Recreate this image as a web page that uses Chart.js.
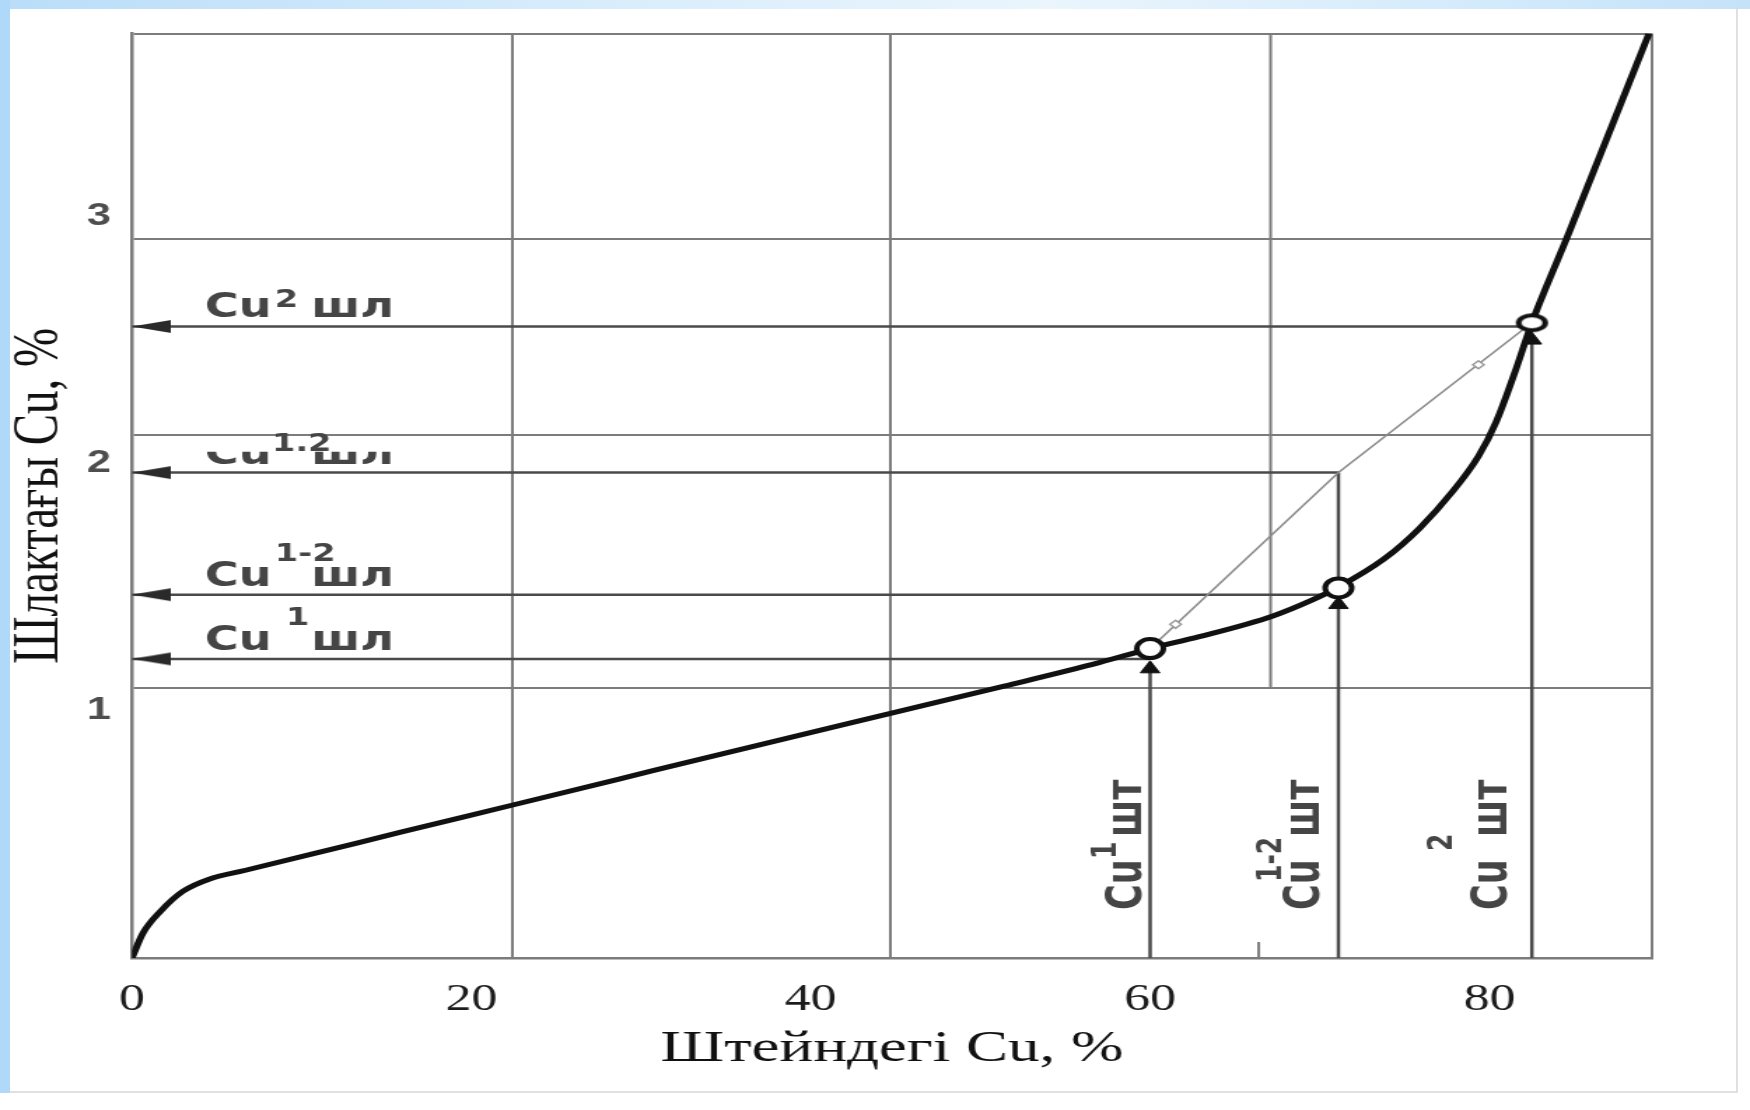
<!DOCTYPE html>
<html>
<head>
<meta charset="utf-8">
<title>Штейндегі Cu</title>
<script src="https://cdn.jsdelivr.net/npm/chart.js@4.4.1/dist/chart.umd.min.js"></script>
<style>
  html, body { margin: 0; padding: 0; background: #ffffff; width: 1750px; height: 1110px; overflow: hidden; }
  #topband { position: absolute; left: 0; top: 0; width: 1750px; height: 9px;
    background: linear-gradient(to right, #b9ddf9 0%, #d5ebfb 30%, #eaf5fd 60%, #d3eafb 85%, #c4e2f8 100%); }
  #leftband { position: absolute; left: 0; top: 0; width: 10px; height: 1093px; background: #b0d8f8; }
  #panel { position: absolute; left: 10px; top: 9px; width: 1726px; height: 1082px;
    border-right: 2px solid #e0e0e0; border-bottom: 2px solid #e0e0e0; }
  canvas { position: absolute; left: 0; top: 0; }
</style>
</head>
<body>
<div id="topband"></div>
<div id="leftband"></div>
<div id="panel"></div>
<!-- the scanned figure is stretched horizontally, so the canvas is displayed wider than it is drawn -->
<canvas id="c" width="1250" height="1110" style="width:1750px;height:1110px"></canvas>
<script>
// ---------------- data (chart units) ----------------
const curveX = [0, 0.64, 1.69, 3.0, 4.58, 6.69, 10.64, 15.9, 22.5, 29.05, 33.5, 44.7, 51.4, 57.0, 60.0, 62.9, 67.2, 69.6, 71.0, 73.8, 75.9, 77.8, 79.35, 80.4, 81.5, 82.5, 84.6, 87.0, 89.4];
const curveY = [0, 0.10, 0.19, 0.27, 0.32, 0.355, 0.421, 0.51, 0.62, 0.73, 0.805, 0.99, 1.10, 1.195, 1.252, 1.30, 1.383, 1.45, 1.497, 1.615, 1.74, 1.885, 2.03, 2.17, 2.37, 2.57, 2.92, 3.33, 3.74];

const matteX = [60.0, 71.1, 82.5];                 // Cu¹шт, Cu¹⁻²шт, Cu²шт
const matteParts = [['Cu', '1', 'шт'], ['Cu', '1-2', 'шт'], ['Cu', '2', 'шт']];
const pointY = [1.252, 1.497, 2.57];                // points on the curve
const matteLineTop = [1.17, 1.964, 2.50];           // top of vertical guide lines
const triangleY = [1.17, 1.43, 2.50];               // arrow heads under the points

const slagY = [1.21, 1.47, 1.964, 2.555];           // Cu¹шл, Cu¹⁻²шл, Cu¹·²шл, Cu²шл
const slagEndX = [60.0, 71.1, 71.1, 82.5];
const slagParts = [['Cu', '1', 'шл'], ['Cu', '1-2', 'шл'], ['Cu', '1.2', 'шл'], ['Cu', '2', 'шл']];

const connectorX = [60.0, 71.1, 82.5];
const connectorY = [1.252, 1.964, 2.57];
const connectorMarkX = [61.5, 79.35];
const connectorMarkY = [1.35, 2.40];

const xTickValues = [0, 20, 40, 60, 80];
const xTickLabels = ['0', '20', '40', '60', '80'];
const yTickValues = [1, 2, 3];
const yTickLabels = ['1', '2', '3'];
const xGridValues = [22.45, 44.7, 89.58];
const yGridValues = [1.091, 2.117, 2.907, 3.74];
const partialGridX = [67.1, 67.1];
const partialGridY = [1.091, 3.74];
const stubX = [66.4, 66.4];
const stubY = [0, 0.065];

const xMin = 0, xMax = 89.58, yMin = 0, yMax = 3.74;
const xTitle = 'Штейндегі Cu, %';
const yTitle = 'Шлактағы Cu, %';

// ---------------- styles ----------------
const GRID = '#7c7c7c';
const GUIDE = '#4a4a4a';
const INK = '#111111';
const SANS = "'Liberation Sans', Arial, sans-serif";
const WIDE = "'DejaVu Sans', Verdana, sans-serif";
const SERIF = "'Liberation Serif', 'Times New Roman', serif";
const labelStyle = {
  color: '#454545',
  hFont: 'bold 33px ' + WIDE,
  hSupFont: 'bold 24px ' + WIDE,
  hStart: 52, hLift: 9, hSupDx: [58, 50, 48, 50], hSupRaise: [25, 25, 13, 10], hTailDx: 76,
  hClipBelowGrid: [null, null, 17, null],
  vFont: 'bold 35px ' + WIDE,
  vSupFont: 'bold 25px ' + WIDE,
  vDx: [-6, -14, -18], vStart: 48, vSupAlong: [51, 28, 59], vSupRaise: [18, 27, 39], vTailAlong: 73
};

const pts = (xs, ys) => xs.map((x, i) => ({ x: x, y: ys[i] }));

function makeArrowLeft() {
  const c = document.createElement('canvas');
  c.width = 56; c.height = 15;
  const g = c.getContext('2d');
  g.fillStyle = '#2a2a2a';
  g.beginPath();
  g.moveTo(28, 7.5); g.lineTo(56, 1); g.lineTo(56, 14); g.closePath();
  g.fill();
  return c;
}
function makeEllipse(w, h, lw) {
  const c = document.createElement('canvas');
  c.width = w + lw + 2; c.height = h + lw + 2;
  const g = c.getContext('2d');
  g.fillStyle = '#ffffff'; g.strokeStyle = INK; g.lineWidth = lw;
  g.beginPath();
  g.ellipse(c.width / 2, c.height / 2, w / 2, h / 2, 0, 0, Math.PI * 2);
  g.fill(); g.stroke();
  return c;
}
const arrowLeft = makeArrowLeft();
const wideRing = makeEllipse(19, 15, 4);

// ---------------- datasets ----------------
const datasets = [];
datasets.push({ label: 'curve', data: pts(curveX, curveY), borderColor: INK, borderWidth: 5,
  pointRadius: 0, cubicInterpolationMode: 'monotone', order: 2 });
slagY.forEach((v, i) => datasets.push({ label: 'slag' + i, data: [{ x: 0, y: v }, { x: slagEndX[i], y: v }],
  borderColor: GUIDE, borderWidth: 2.5, pointRadius: 0, order: 5 }));
matteX.forEach((v, i) => datasets.push({ label: 'matte' + i, data: [{ x: v, y: matteLineTop[i] }, { x: v, y: 0 }],
  borderColor: GUIDE, borderWidth: 2.5, pointRadius: 0, order: 5 }));
datasets.push({ label: 'connector', data: pts(connectorX, connectorY), borderColor: '#8c8c8c', borderWidth: 1.6,
  pointRadius: 0, order: 4 });
datasets.push({ label: 'connectorMarks', data: pts(connectorMarkX, connectorMarkY), showLine: false,
  pointStyle: 'rectRot', pointRadius: 4, pointBackgroundColor: '#ffffff', pointBorderColor: '#9a9a9a',
  pointBorderWidth: 1.5, order: 3 });
datasets.push({ label: 'gridPart', data: pts(partialGridX, partialGridY), borderColor: GRID, borderWidth: 2,
  pointRadius: 0, order: 6 });
datasets.push({ label: 'stub', data: pts(stubX, stubY), borderColor: GRID, borderWidth: 2,
  pointRadius: 0, order: 6 });
datasets.push({ label: 'triangles', data: pts(matteX, triangleY), showLine: false, pointStyle: 'triangle',
  pointRadius: 8, pointBackgroundColor: INK, pointBorderColor: INK, pointBorderWidth: 1, order: 1 });
datasets.push({ label: 'points', data: pts(matteX, pointY), showLine: false,
  pointStyle: ['circle', 'circle', wideRing],
  pointRadius: 9.5, pointBackgroundColor: '#ffffff', pointBorderColor: INK, pointBorderWidth: 4, order: 0 });
datasets.push({ label: 'arrows', data: slagY.map(v => ({ x: 0, y: v })), showLine: false,
  pointStyle: arrowLeft, pointRadius: 10, order: 1, clip: false });

// ---------------- annotation text plugin ----------------
const annotationText = {
  id: 'annotationText',
  afterDatasetsDraw(chart) {
    const { ctx, scales: { x, y } } = chart;
    const st = labelStyle;
    ctx.save();
    ctx.fillStyle = st.color;
    ctx.textBaseline = 'alphabetic';
    ctx.textAlign = 'left';
    // horizontal slag labels
    slagParts.forEach((parts, i) => {
      const px = x.getPixelForValue(0) + st.hStart;
      const py = y.getPixelForValue(slagY[i]) - st.hLift;
      ctx.save();
      if (st.hClipBelowGrid[i] !== null) {
        const top = y.getPixelForValue(yGridValues[1]) + st.hClipBelowGrid[i];
        ctx.beginPath();
        ctx.rect(px - 5, top, 220, py - top + 12);
        ctx.clip();
      }
      ctx.font = st.hFont;
      ctx.fillText(parts[0], px, py);
      ctx.fillText(parts[2], px + st.hTailDx, py);
      ctx.restore();
      ctx.font = st.hSupFont;
      ctx.fillText(parts[1], px + st.hSupDx[i], py - st.hSupRaise[i]);
    });
    // vertical matte labels
    matteParts.forEach((parts, i) => {
      const px = x.getPixelForValue(matteX[i]) + st.vDx[i];
      const py = y.getPixelForValue(0) - st.vStart;
      ctx.save();
      ctx.translate(px, py);
      ctx.rotate(-Math.PI / 2);
      ctx.font = st.vFont;
      ctx.fillText(parts[0], 0, 0);
      ctx.fillText(parts[2], st.vTailAlong, 0);
      ctx.font = st.vSupFont;
      ctx.fillText(parts[1], st.vSupAlong[i], -st.vSupRaise[i]);
      ctx.restore();
    });
    ctx.restore();
  }
};

// ---------------- chart ----------------
new Chart(document.getElementById('c'), {
  type: 'line',
  data: { datasets: datasets },
  plugins: [annotationText],
  options: {
    responsive: false,
    animation: false,
    events: [],
    layout: { padding: { left: 0, right: 70, top: 30, bottom: 0 } },
    plugins: { legend: { display: false }, tooltip: { enabled: false } },
    scales: {
      x: {
        type: 'linear', min: xMin, max: xMax,
        afterBuildTicks: s => { s.ticks = [...xTickValues, ...xGridValues].sort((a, b) => a - b).map(v => ({ value: v })); },
        afterFit: s => { s.height = 152; },
        ticks: {
          autoSkip: false, maxRotation: 0, minRotation: 0, padding: 20,
          color: '#1c1c1c', font: { family: SERIF, size: 37 },
          callback: v => { const k = xTickValues.indexOf(v); return k >= 0 ? xTickLabels[k] : ''; }
        },
        grid: {
          drawTicks: false, lineWidth: 2,
          color: c => (c.tick && xGridValues.includes(c.tick.value)) ? GRID : 'rgba(0,0,0,0)'
        },
        border: { display: true, color: GRID, width: 2.5 },
        title: { display: true, text: xTitle, color: '#111111', font: { family: SERIF, size: 45 },
          padding: { top: 0, bottom: 34 } }
      },
      y: {
        type: 'linear', min: yMin, max: yMax,
        afterBuildTicks: s => { s.ticks = [...yTickValues, ...yGridValues].sort((a, b) => a - b).map(v => ({ value: v })); },
        afterFit: s => { s.width = 94.3; },
        ticks: {
          autoSkip: false, padding: 15,
          color: '#4e4e4e', font: { family: SANS, size: 31, weight: 'bold' },
          callback: v => { const k = yTickValues.indexOf(v); return k >= 0 ? yTickLabels[k] : ''; }
        },
        grid: {
          drawTicks: false, lineWidth: 2,
          color: c => (c.tick && yGridValues.includes(c.tick.value)) ? GRID : 'rgba(0,0,0,0)'
        },
        border: { display: true, color: GRID, width: 2.5 },
        title: { display: true, text: yTitle, color: '#111111', font: { family: SERIF, size: 47 },
          padding: { top: 0, bottom: 0 } }
      }
    }
  }
});
</script>
</body>
</html>
